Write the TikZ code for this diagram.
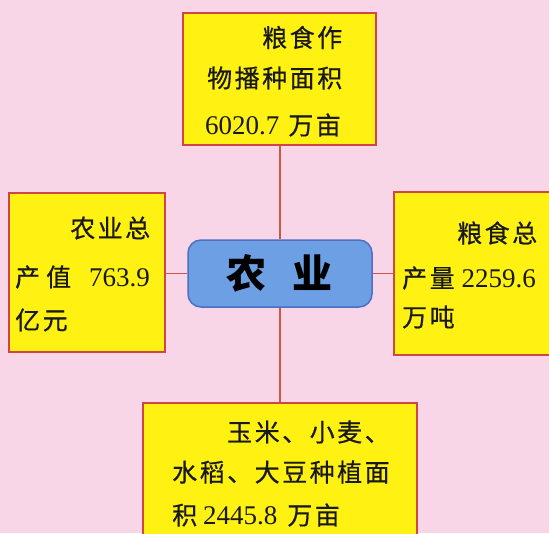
\documentclass[tikz,border=0pt]{standalone}
\usepackage{fontspec}
\newfontfamily\cjk[LetterSpace=10,FakeBold=0.6]{Noto Sans CJK SC}
\newfontfamily\cjkc{Noto Sans CJK SC}
\newfontfamily\num{Liberation Serif}
\definecolor{bgpink}{HTML}{F8D6E8}
\definecolor{boxyellow}{HTML}{FFF212}
\definecolor{boxline}{HTML}{D0454A}
\definecolor{linkcol}{HTML}{C8584A}
\definecolor{ctrfill}{HTML}{6C9FE4}
\definecolor{ctrline}{HTML}{4D6FC4}
\tikzset{
  ybox/.style={draw=boxline, line width=1.2pt, fill=boxyellow, rectangle, inner sep=0pt},
  ctrbox/.style={draw=ctrline, line width=1.5pt, fill=ctrfill, rounded corners=13pt, inner sep=0pt},
  link/.style={draw=linkcol, line width=1.8pt},
  txt/.style={anchor=west, inner sep=0pt, text=black!90, font=\fontsize{25}{25}\selectfont\cjk},
}
\newcommand{\nm}[1]{{\fontsize{27}{27}\selectfont\num #1}}
\begin{document}
\begin{tikzpicture}[x=1pt,y=-1pt]
\path[use as bounding box, fill=bgpink] (0,0) rectangle (549,533);
\clip (0,0) rectangle (549,533);
% boxes
\node[ybox, minimum width=193pt, minimum height=132pt] (top) at (279.5,79) {};
\node[ybox, minimum width=156pt, minimum height=159pt] (left) at (87,272.5) {};
\node[ybox, minimum width=156pt, minimum height=163pt] (right) at (472,273.5) {};
\node[ybox, minimum width=274pt, minimum height=150pt] (bottom) at (280,478) {};
\node[ctrbox, minimum width=184pt, minimum height=67pt] (center) at (280,273.5) {};
% connectors
\draw[link] (top.south -| center.north) -- (center.north);
\draw[link] (center.south) -- (center.south |- bottom.north);
\draw[link] (left.east |- center.west) -- (center.west);
\draw[link] (center.east) -- (right.west |- center.east);
% center text
\node[inner sep=0pt, font=\fontsize{40}{40}\selectfont\cjkc\bfseries] (ctext) at (279,273) {农\hspace{26pt}业};
% top box text
\node[txt] (t1) at (262,37.5) {粮食作};
\node[txt] (t2) at (207,78) {物播种面积};
\node[txt] (t3) at (205,125) {\nm{6020.7}\hspace{9pt}万亩};
% left box text
\node[txt] (l1) at (70,228) {农业总};
\node[txt] (l2) at (15,277) {产\hspace{6pt}值\hspace{18pt}\nm{763.9}};
\node[txt] (l3) at (15,320) {亿元};
% right box text
\node[txt] (r1) at (457,233) {粮食总};
\node[txt] (r2) at (402,278) {产量\hspace{7pt}\nm{2259.6}};
\node[txt] (r3) at (402,317) {万吨};
% bottom box text
\node[txt] (b1) at (227,432) {玉米、小麦、};
\node[txt] (b2) at (172,472) {水稻、大豆种植面};
\node[txt] (b3) at (172,515) {积\hspace{6pt}\nm{2445.8}\hspace{10pt}万亩};
\end{tikzpicture}
\end{document}
